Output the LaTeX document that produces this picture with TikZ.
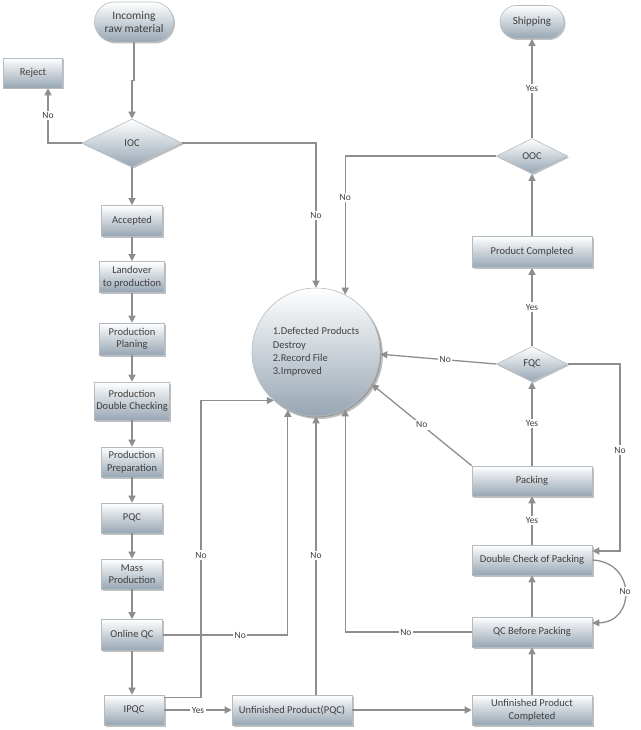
\documentclass[tikz,border=0pt]{standalone}
\usepackage{fontspec}
\setmainfont{Carlito}
\usetikzlibrary{shapes.geometric,shapes.misc,arrows.meta,shadows,calc}
\definecolor{txt}{HTML}{404040}
\definecolor{ln}{HTML}{8E8E8E}
\definecolor{shadeb}{HTML}{97A6B3}
\definecolor{edgec}{HTML}{B4BCC3}
\tikzset{
  base/.style={draw=edgec, line width=0.6pt, top color=white, bottom color=shadeb,
    text=txt, font=\fontsize{10.5}{12.5}\selectfont, align=center, inner sep=0pt,
    drop shadow={opacity=0.45, shadow xshift=1.5pt, shadow yshift=-1.5pt, fill=black!55}},
  box/.style={base, rectangle},
  term/.style={base, rounded rectangle},
  dia/.style={base, diamond},
  flow/.style={draw=ln, line width=1.3pt, -{Triangle[length=7pt,width=7pt]}},
  lab/.style={fill=white, text=txt, font=\fontsize{9.5}{10}\selectfont, inner sep=1.5pt},
}
\begin{document}
\begin{tikzpicture}[x=1pt,y=-1pt]
\useasboundingbox (0,0) rectangle (640,730);
% nodes
\node[term, minimum width=79, minimum height=40, font=\fontsize{11.5}{13.5}\selectfont] (inc) at (134,22) {Incoming\\raw material};
\node[box, minimum width=59, minimum height=30] (rej) at (33,73) {Reject};
\node[dia, minimum width=100, minimum height=48] (ioc) at (132,143) {IOC};
\node[box, minimum width=61, minimum height=31] (acc) at (132,221) {Accepted};
\node[box, minimum width=65, minimum height=31] (land) at (132,277) {Landover\\to production};
\node[box, minimum width=65, minimum height=32] (plan) at (132,339) {Production\\Planing};
\node[box, minimum width=75, minimum height=38] (pdc) at (132,401) {Production\\Double Checking};
\node[box, minimum width=61, minimum height=30] (prep) at (132,462) {Production\\Preparation};
\node[box, minimum width=61, minimum height=30] (pqc) at (132,518) {PQC};
\node[box, minimum width=61, minimum height=30] (mass) at (132,574) {Mass\\Production};
\node[box, minimum width=61, minimum height=31] (oqc) at (132,635) {Online QC};
\node[box, minimum width=60, minimum height=30] (ipqc) at (134,710) {IPQC};
\node[box, minimum width=120, minimum height=30] (upq) at (292,710) {Unfinished Product(PQC)};
\node[box, minimum width=120, minimum height=30] (upc) at (532,710) {Unfinished Product\\Completed};
\node[box, minimum width=120, minimum height=30] (qcbp) at (532,632) {QC Before Packing};
\node[box, minimum width=120, minimum height=30] (dcp) at (532,560) {Double Check of Packing};
\node[box, minimum width=120, minimum height=30] (pack) at (532,481) {Packing};
\node[dia, minimum width=71, minimum height=35] (fqc) at (532,364) {FQC};
\node[box, minimum width=120, minimum height=31] (pc) at (532,252) {Product Completed};
\node[dia, minimum width=71, minimum height=35] (ooc) at (532,156) {OOC};
\node[term, minimum width=64, minimum height=33, font=\fontsize{11}{12}\selectfont] (ship) at (532,22) {Shipping};
\node[base, circle, minimum size=128, align=left, font=\fontsize{10.5}{13.3}\selectfont,
  drop shadow={opacity=0.45, shadow xshift=3pt, shadow yshift=-3pt, fill=black!55}] (circ) at (316,352)
  {1.Defected Products\\Destroy\\2.Record File\\3.Improved};
\coordinate (x201) at (201,0);
\coordinate (x620) at (620,0);
% main column
\draw[flow] (inc.south) -- ($(inc.south)+(0,38)$) -| (ioc.north);
\draw[flow] (ioc.west) -| node[lab,pos=0.75]{No} ([xshift=15pt]rej.south);
\draw[flow] (ioc.east) -| node[lab,pos=0.75]{No} (circ.north);
\draw[flow] (ioc) -- (acc);
\draw[flow] (acc) -- (land);
\draw[flow] (land) -- (plan);
\draw[flow] (plan) -- (pdc);
\draw[flow] (pdc) -- (prep);
\draw[flow] (prep) -- (pqc);
\draw[flow] (pqc) -- (mass);
\draw[flow] (mass) -- (oqc);
\draw[flow] (oqc.south) -- (oqc.south |- ipqc.north);
\draw[flow] (oqc.east) -| node[lab,pos=0.31]{No} (circ.244);
\draw[flow] ([yshift=-3pt]ipqc.north east) -| node[lab,pos=0.74]{No} (x201 |- circ.229) -- (circ.229);
\draw[flow] (ipqc) -- node[lab]{Yes} (upq);
\draw[flow] (upq.north -| circ.south) -- node[lab]{No} (circ.south);
\draw[flow] (upq) -- (upc);
% right column
\draw[flow] (upc) -- (qcbp);
\draw[flow] (qcbp.west) -| node[lab,pos=0.26]{No} (circ.297);
\draw[flow] (qcbp) -- (dcp);
\draw[flow] (dcp.east) .. controls (636,562) and (636,622) .. node[lab]{No} ([yshift=9pt]qcbp.east);
\draw[flow] (dcp) -- node[lab]{Yes} (pack);
\draw[flow] (pack.north west) -- node[lab]{No} (circ.-30);
\draw[flow] (pack) -- node[lab]{Yes} (fqc);
\draw[flow] (fqc.west) -- node[lab,pos=0.44]{No} (circ.-2);
\draw[flow] (fqc.east) -- (x620 |- fqc.east) |- node[lab,pos=0.23]{No} ([yshift=9pt]dcp.east);
\draw[flow] (fqc) -- node[lab]{Yes} (pc);
\draw[flow] (pc) -- (ooc);
\draw[flow] (ooc) -- node[lab]{Yes} (ship);
\draw[flow] (ooc.west) -| node[lab,pos=0.65]{No} (circ.63);
\end{tikzpicture}
\end{document}
